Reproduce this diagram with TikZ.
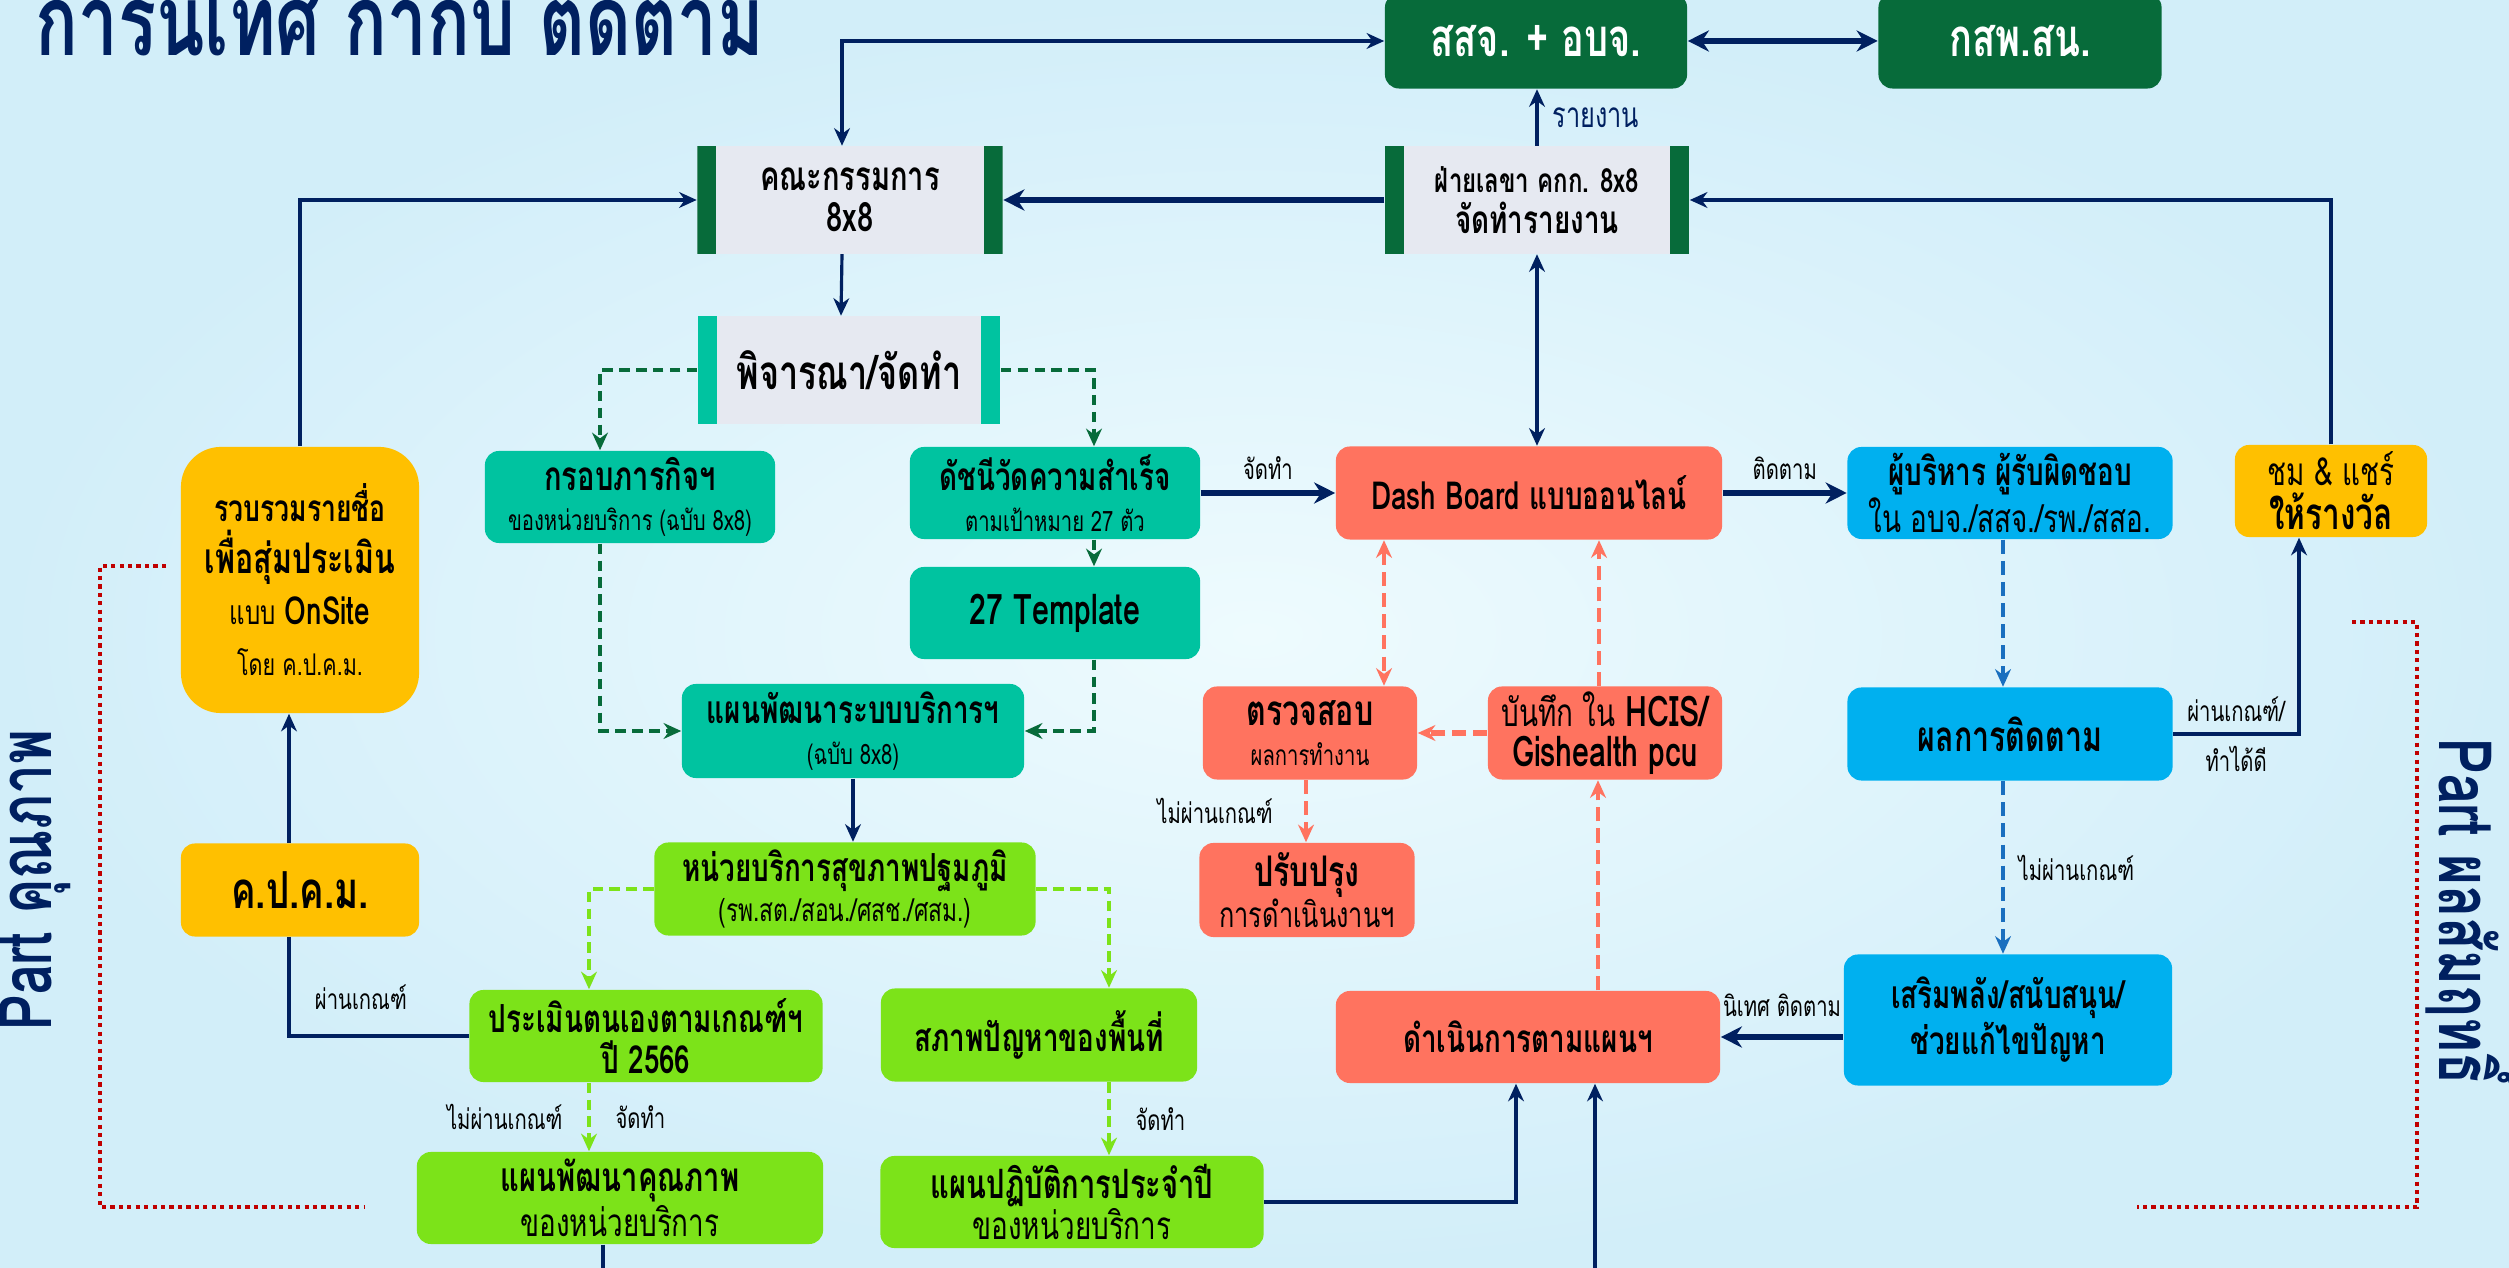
\documentclass[tikz,border=0pt]{standalone}
\usepackage{fontspec}
\newfontfamily\thaifont[Script=Thai,FakeStretch=0.72]{Loma}
\usetikzlibrary{arrows.meta,calc}
\definecolor{navy}{HTML}{002060}
\definecolor{dgreen}{HTML}{076B3A}
\definecolor{tealc}{HTML}{00C3A0}
\definecolor{limec}{HTML}{7CE319}
\definecolor{coral}{HTML}{FF735F}
\definecolor{bluec}{HTML}{00B0EF}
\definecolor{yellowc}{HTML}{FFC000}
\definecolor{boxgrey}{HTML}{E6E9F1}
\definecolor{reddot}{HTML}{C00000}
\definecolor{bldash}{HTML}{1A6FBF}
\definecolor{bgin}{HTML}{EEFBFE}
\definecolor{bgout}{HTML}{D2EEF9}
\newcommand{\subl}[1]{{\mdseries\fontsize{8}{10}\selectfont #1}}
\newcommand{\subm}[2][11]{{\mdseries\fontsize{#1}{11.5}\selectfont #2}}

\tikzset{
  box/.style={rounded corners=0.14cm,align=center,inner sep=1pt,
    font=\thaifont\bfseries\fontsize{11}{11.5}\selectfont},
  fsz/.style={font=\thaifont\bfseries\fontsize{#1}{11.5}\selectfont},
  wh/.style 2 args={minimum width=#1cm,minimum height=#2cm},
  barbox/.style={box,rounded corners=0pt,fill=boxgrey,
    path picture={
      \fill[#1] (path picture bounding box.north west) rectangle ([xshift=0.19cm]path picture bounding box.south west);
      \fill[#1] (path picture bounding box.north east) rectangle ([xshift=-0.19cm]path picture bounding box.south east);
    }},
  lbl/.style={font=\thaifont\fontsize{8}{9}\selectfont,inner sep=1pt},
  navyline/.style={draw=navy,line width=0.9pt,>={Stealth[length=5pt,width=4.5pt]}},
  navythick/.style={draw=navy,line width=1.6pt,>={Stealth[length=6pt,width=6pt]}},
  dgdash/.style={draw=dgreen,line width=1.1pt,dash pattern=on 3pt off 1.8pt,>={Stealth[length=5pt,width=4.5pt]}},
  lgdash/.style={draw=limec,line width=1.1pt,dash pattern=on 3pt off 1.8pt,>={Stealth[length=5pt,width=4.5pt]}},
  crdash/.style={draw=coral,line width=0.9pt,dash pattern=on 4pt off 2pt,>={Stealth[length=5pt,width=4.5pt]}},
  bldashed/.style={draw=bldash,line width=0.9pt,dash pattern=on 4pt off 2pt,>={Stealth[length=5pt,width=4.5pt]}},
  reddotted/.style={draw=reddot,line width=1.2pt,dash pattern=on 1.2pt off 1.2pt},
  sidetxt/.style={font=\thaifont\bfseries\fontsize{21}{24}\selectfont,text=navy,inner sep=0pt}
}

\begin{document}
\begin{tikzpicture}[x=0.01cm,y=-0.01cm,>=Stealth]
  % background
  \shade[inner color=bgin,outer color=bgout] (0,0) rectangle (2509,1268);
  \useasboundingbox (0,0) rectangle (2509,1268);

  % title and side parts
  \node[anchor=base west,inner sep=0pt,text=navy,
    font=\thaifont\bfseries\fontsize{28}{30}\selectfont] (title) at (35,56) {การนิเทศ กำกับ ติดตาม};
  \node[sidetxt,rotate=90] (partq) at (35,880) {Part คุณภาพ};
  \node[sidetxt,rotate=-90] (partr) at (2472,912) {Part ผลสัมฤทธิ์};
  \draw[reddotted] (166,566) -- (100,566) -- (100,1207) -- (365,1207);
  \draw[reddotted] (2352,622) -- (2417,622) -- (2417,1207) -- (2137,1207);

  % top row
  \node[box,fill=dgreen,text=white,wh={3.02}{0.95},fsz=15] (ssj) at (1536,41) {สสจ. + อบจ.};
  \node[box,fill=dgreen,text=white,wh={2.83}{0.95},fsz=15] (ksp) at (2020,41) {กสพ.สน.};
  \node[barbox=dgreen,wh={3.05}{1.07},fsz=11.5] (com) at (850,200) {คณะกรรมการ\\8x8};
  \node[barbox=dgreen,wh={3.04}{1.07}] (sec) at (1537,200) {{\fontsize{9.5}{11}\selectfont ฝ่ายเลขา คกก. 8x8}\\จัดทำรายงาน};
  \node[barbox=tealc,wh={3.02}{1.07},fsz=13.5] (cons) at (849,370) {พิจารณา/จัดทำ};

  % teal boxes
  \node[box,fill=tealc,wh={2.90}{0.92},fsz=11.5] (frame) at (630,497) {กรอบภารกิจฯ\\\subl{ของหน่วยบริการ (ฉบับ 8x8)}};
  \node[box,fill=tealc,wh={2.90}{0.92}] (kpi) at (1055,493) {ดัชนีวัดความสำเร็จ\\\subl{ตามเป้าหมาย 27 ตัว}};
  \node[box,fill=tealc,wh={2.90}{0.92},fsz=12] (tmpl) at (1055,613) {27 Template};
  \node[box,fill=tealc,wh={3.42}{0.94}] (plan8) at (853,731) {แผนพัฒนาระบบบริการฯ\\\subl{(ฉบับ 8x8)}};

  % green boxes
  \node[box,fill=limec,wh={3.81}{0.93}] (pcu) at (845,889) {หน่วยบริการสุขภาพปฐมภูมิ\\\subm[9]{(รพ.สต./สอน./ศสช./ศสม.)}};
  \node[box,fill=limec,wh={3.53}{0.92}] (self) at (646,1036) {ประเมินตนเองตามเกณฑ์ฯ\\ปี 2566};
  \node[box,fill=limec,wh={3.16}{0.93}] (prob) at (1039,1035) {สภาพปัญหาของพื้นที่};
  \node[box,fill=limec,wh={4.06}{0.92},fsz=11.5] (qplan) at (620,1198) {แผนพัฒนาคุณภาพ\\\subm{ของหน่วยบริการ}};
  \node[box,fill=limec,wh={3.83}{0.92},fsz=11.5] (aplan) at (1072,1202) {แผนปฏิบัติการประจำปี\\\subm{ของหน่วยบริการ}};

  % yellow boxes
  \node[box,fill=yellowc,rounded corners=0.4cm,wh={2.38}{2.66},font=\thaifont\bfseries\fontsize{10.5}{14.6}\selectfont] (rvb) at (300,580)
    {รวบรวมรายชื่อ\\{\fontsize{12}{14}\selectfont เพื่อสุ่มประเมิน}\\\subm[9.5]{แบบ} {\fontsize{11}{14}\selectfont OnSite}\\\subm[8.5]{โดย ค.ป.ค.ม.}};
  \node[box,fill=yellowc,wh={2.38}{0.93},fsz=14.5] (kpkm) at (300,890) {ค.ป.ค.ม.};
  \node[box,fill=yellowc,wh={1.92}{0.92},fsz=12.5] (praise) at (2331,491) {\subm[11]{ชม \& แชร์}\\[1pt]ให้รางวัล};

  % coral boxes
  \node[box,fill=coral,wh={3.86}{0.93}] (dash) at (1529,493) {Dash Board แบบออนไลน์};
  \node[box,fill=coral,wh={2.14}{0.93},fsz=12] (check) at (1310,733) {ตรวจสอบ\\\subl{ผลการทำงาน}};
  \node[box,fill=coral,wh={2.34}{0.93},fsz=12] (rec) at (1605,733) {\subm{บันทึก ใน} HCIS/\\Gishealth pcu};
  \node[box,fill=coral,wh={2.15}{0.94},fsz=12] (impr) at (1307,890) {ปรับปรุง\\\subm[10]{การดำเนินงานฯ}};
  \node[box,fill=coral,wh={3.84}{0.92}] (act) at (1528,1037) {ดำเนินการตามแผนฯ};

  % blue boxes
  \node[box,fill=bluec,wh={3.25}{0.92}] (exec) at (2010,493) {ผู้บริหาร ผู้รับผิดชอบ\\\subm{ใน อบจ./สสจ./รพ./สสอ.}};
  \node[box,fill=bluec,wh={3.25}{0.93},fsz=12] (result) at (2010,734) {ผลการติดตาม};
  \node[box,fill=bluec,wh={3.28}{1.31}] (supp) at (2008,1020) {เสริมพลัง/สนับสนุน/\\ช่วยแก้ไขปัญหา};

  % navy connectors
  \draw[navyline,<->] ($(com.north)+(-8,0)$) |- (ssj.west);
  \draw[navythick,<->] (ssj.east) -- (ksp.west);
  \draw[navyline,->] (sec.north) -- (sec.north |- ssj.south)
    node[lbl,midway,right=3pt,text=navy,font=\thaifont\fontsize{10}{11}\selectfont] (lrep) {รายงาน};
  \draw[navythick,->] (sec.west) -- (com.east);
  \draw[navyline,->] (praise.north) |- (sec.east);
  \draw[navyline,<->] (sec.south) -- (sec.south |- dash.north);
  \draw[navyline,->] ($(com.south)+(-8,0)$) -- ($(cons.north)+(-8,0)$);
  \draw[navyline,->] (rvb.north) |- (com.west);
  \draw[navythick,->] (kpi.east) -- (dash.west) node[lbl,midway,above=2pt] (lmake) {จัดทำ};
  \draw[navythick,->] (dash.east) -- (exec.west) node[lbl,midway,above=2pt] (lfollow) {ติดตาม};
  \draw[navyline,->] (plan8.south) -- (plan8.south |- pcu.north);
  \draw[navyline] (self.west) -| ($(kpkm.south)+(-11,0)$) node[lbl,pos=0.3,above=6pt] (lpass) {ผ่านเกณฑ์};
  \draw[navyline,->] ($(kpkm.north)+(-11,0)$) -- ($(rvb.south)+(-11,0)$);
  \coordinate (qend) at (603,1290);
  \draw[navyline] (qplan.south -| qend) -- (qend);
  \draw[navyline,->] (aplan.east) -| ($(act.south)+(-12,0)$);
  \coordinate (aend) at (1595,1290);
  \draw[navyline,->] (aend) -- (aend |- act.south);
  \draw[navythick,->] (supp.west |- act.east) -- (act.east)
    node[lbl,midway,above=4pt] (lsup) {นิเทศ ติดตาม};
  \draw[navyline,->] (result.east) -| ($(praise.south)+(-32,0)$)
    node[lbl,pos=0.25,above=2pt] (lgood1) {ผ่านเกณฑ์/}
    node[lbl,pos=0.25,below=2pt] (lgood2) {ทำได้ดี};

  % dark green dashed
  \draw[dgdash,->] (cons.west) -| ($(frame.north)+(-30,0)$);
  \draw[dgdash,->] (cons.east) -| ($(kpi.north)+(39,0)$);
  \draw[dgdash,->] ($(kpi.south)+(39,0)$) -- ($(tmpl.north)+(39,0)$);
  \draw[dgdash,->] ($(frame.south)+(-30,0)$) |- (plan8.west);
  \draw[dgdash,->] ($(tmpl.south)+(39,0)$) |- (plan8.east);

  % light green dashed
  \draw[lgdash,->] (pcu.west) -| ($(self.north)+(-57,0)$);
  \draw[lgdash,->] (pcu.east) -| ($(prob.north)+(70,0)$);
  \draw[lgdash,->] ($(self.south)+(-57,0)$) -- ($(qplan.north)+(-31,0)$)
    node[lbl,midway,left=6pt] (lfail1) {ไม่ผ่านเกณฑ์}
    node[lbl,midway,right=6pt] (lmake1) {จัดทำ};
  \draw[lgdash,->] ($(prob.south)+(70,0)$) -- ($(aplan.north)+(37,0)$)
    node[lbl,midway,right=6pt] (lmake2) {จัดทำ};

  % blue dashed
  \draw[bldashed,->] ($(exec.south)+(-7,0)$) -- ($(result.north)+(-7,0)$);
  \draw[bldashed,->] ($(result.south)+(-7,0)$) -- ($(supp.north)+(-5,0)$)
    node[lbl,midway,right=3pt] (lfail2) {ไม่ผ่านเกณฑ์};

  % coral dashed
  \draw[crdash,<->] ($(dash.south)+(-145,0)$) -- ($(check.north)+(74,0)$);
  \draw[crdash,->] ($(rec.north)+(-6,0)$) -- ($(dash.south)+(70,0)$);
  \draw[crdash,->,line width=1.6pt,dash pattern=on 4pt off 2pt] (rec.west) -- (check.east);
  \draw[crdash,->] ($(check.south)+(-4,0)$) -- ($(impr.north)+(-1,0)$)
    node[lbl,midway,left=8pt] (lfail3) {ไม่ผ่านเกณฑ์};
  \draw[crdash,->] ($(act.north)+(70,0)$) -- ($(rec.south)+(-7,0)$);
\end{tikzpicture}
\end{document}
